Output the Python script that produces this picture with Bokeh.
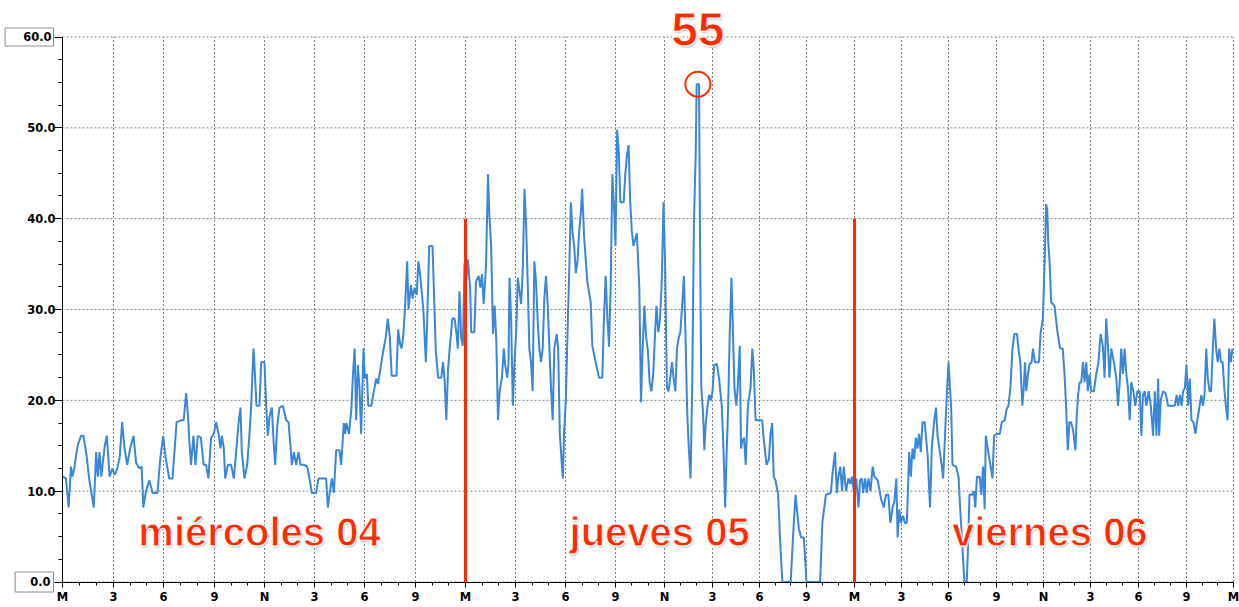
import numpy as np
from bokeh.plotting import figure
from bokeh.models import FixedTicker, Label, Range1d, LinearAxis
from bokeh.core.properties import value
from bokeh.embed import file_html
from bokeh.resources import INLINE

# ---------------- data ----------------
block_hours = list(range(0, 73, 3))
# number of readings logged in each 3-hour block (the axis is per reading)
readings_per_block = [51, 50, 51, 50, 50, 50, 51, 50,
                      50, 50, 50, 49, 48, 47, 47, 48,
                      47, 47, 48, 47, 47, 48, 48, 47]
tick_labels = ["M", "3", "6", "9", "N", "3", "6", "9"] * 3 + ["M"]
y_ticks = [0, 10, 20, 30, 40, 50, 60]
y_tick_labels = ["0.0", "10.0", "20.0", "30.0", "40.0", "50.0", "60.0"]
day_names = ["miércoles 04", "jueves 05", "viernes 06"]
day_label_hours = [11.7, 35.7, 60.4]
day_marks = [24, 48]

wed_hours = [0.00, 0.20, 0.36, 0.50, 0.59, 0.69, 0.89, 1.09, 1.23, 1.39,
             1.58, 1.84, 1.98, 2.08, 2.18, 2.28, 2.48, 2.61, 2.77, 2.93,
             3.07, 3.21, 3.37, 3.52, 3.66, 3.82, 4.00, 4.20, 4.36, 4.55,
             4.69, 4.79, 4.95, 5.15, 5.35, 5.64, 5.80, 5.98, 6.14, 6.34,
             6.53, 6.67, 6.77, 7.03, 7.19, 7.33, 7.43, 7.52, 7.62, 7.76,
             7.88, 8.02,
             8.20, 8.36, 8.50, 8.64, 8.80, 8.96, 9.10, 9.24, 9.36, 9.44,
             9.56, 9.64, 9.80, 10.00, 10.16, 10.30, 10.44, 10.56, 10.64, 10.80,
             10.96, 11.10, 11.20, 11.34, 11.44, 11.52, 11.70, 11.80, 12.00, 12.10,
             12.20, 12.30, 12.44, 12.56, 12.64, 12.76, 12.90, 13.10, 13.30, 13.44,
             13.56, 13.64, 13.76, 13.90, 14.04, 14.16, 14.40, 14.56, 14.70, 14.84,
             15.10, 15.24, 15.70, 15.80, 15.90, 16.04, 16.16, 16.30, 16.50, 16.60,
             16.76, 16.84,
             16.91, 17.07, 17.21, 17.31, 17.41, 17.50, 17.60, 17.70, 17.80, 17.94,
             18.02, 18.14, 18.22, 18.40, 18.59, 18.69, 18.79, 18.89, 19.09, 19.25,
             19.37, 19.49, 19.60, 19.88, 19.98, 20.08, 20.18, 20.28, 20.38, 20.51,
             20.59, 20.73, 20.83, 20.95, 21.07, 21.17, 21.27, 21.47, 21.62, 21.70,
             21.82, 22.02, 22.12, 22.22, 22.36, 22.55, 22.65, 22.75, 22.85, 22.95,
             23.05, 23.21, 23.35, 23.45, 23.54, 23.64, 23.74, 23.84, 23.94]
wed_speed = [11.6, 11.4, 8.2, 12.7, 11.6, 12.5, 15.0, 16.1, 16.1, 14.3,
             11.2, 8.2, 14.3, 11.6, 14.3, 11.6, 14.9, 16.1, 11.6, 12.5,
             11.8, 12.4, 13.7, 17.6, 14.7, 12.9, 14.7, 16.1, 13.1, 12.5,
             12.7, 8.2, 10.0, 11.2, 9.8, 9.8, 13.5, 16.1, 13.5, 11.4,
             11.4, 15.0, 17.6, 17.8, 17.8, 20.8, 18.6, 15.5, 12.9, 16.1,
             12.9, 16.1,
             15.9, 12.9, 12.9, 11.4, 15.9, 16.3, 17.6, 16.3, 14.7, 16.1,
             14.7, 11.4, 12.9, 12.9, 11.4, 14.3, 17.5, 19.2, 14.3, 11.4,
             12.9, 16.3, 19.4, 25.7, 22.4, 19.4, 19.4, 24.2, 24.2, 19.4,
             16.1, 18.2, 19.2, 15.0, 12.9, 17.1, 19.2, 19.4, 17.8, 17.6,
             15.0, 12.9, 14.3, 12.9, 14.3, 12.9, 12.9, 12.7, 11.4, 9.8,
             9.8, 11.4, 11.4, 8.2, 9.6, 11.4, 9.8, 14.5, 14.5, 12.9,
             17.5, 16.3,
             17.5, 16.3, 19.0, 22.9, 25.7, 17.8, 23.9, 21.4, 16.3, 25.7,
             22.4, 22.9, 19.4, 19.4, 21.4, 22.4, 21.8, 22.9, 25.3, 26.9,
             29.0, 26.9, 22.7, 22.7, 27.8, 26.3, 25.7, 27.1, 30.0, 35.3,
             30.0, 32.7, 31.2, 32.4, 31.6, 35.3, 34.0, 30.0, 24.2, 28.6,
             37.0, 37.0, 31.2, 25.3, 22.5, 22.5, 24.2, 22.2, 17.8, 23.3,
             25.7, 29.0, 29.0, 27.5, 25.7, 32.0, 26.9, 26.0, 35.1]

thu_hours = [24.04, 24.14, 24.28, 24.34, 24.53, 24.63, 24.79, 24.89, 24.99, 25.09,
             25.23, 25.35, 25.43, 25.54,
             25.65, 25.75, 25.85, 25.95, 26.05, 26.18, 26.30, 26.38, 26.50, 26.58,
             26.64, 26.74, 26.84, 26.94, 27.04, 27.14, 27.24, 27.34, 27.44, 27.54,
             27.64, 27.74, 27.83, 27.93, 28.03, 28.13, 28.23, 28.33, 28.43, 28.53,
             28.63, 28.73, 28.83, 28.93, 29.03, 29.13, 29.23, 29.33, 29.47, 29.56,
             29.66, 29.76, 29.84, 29.92, 30.02, 30.12, 30.22, 30.32, 30.42, 30.52,
             30.62, 30.72, 30.82, 30.92, 31.00, 31.12, 31.31, 31.51, 31.61, 31.81,
             32.01, 32.21, 32.31, 32.41, 32.51, 32.61, 32.71, 32.81, 32.90, 33.00,
             33.10, 33.20, 33.30, 33.50, 33.60, 33.70, 33.80, 33.90, 34.00, 34.10,
             34.31, 34.46, 34.56, 34.67, 34.77, 34.88, 34.99, 35.09, 35.20, 35.31,
             35.41, 35.51, 35.62, 35.73, 35.83, 35.94, 36.04, 36.15, 36.25, 36.36,
             36.47, 36.57, 36.68, 36.78, 36.89, 36.99, 37.10, 37.21, 37.31, 37.42,
             37.52, 37.63, 37.73, 37.84, 37.95, 38.01, 38.16, 38.22, 38.30, 38.41,
             38.49, 38.58, 38.68, 38.79, 38.90, 39.00, 39.11, 39.28, 39.42, 39.59,
             39.70, 39.81, 39.89, 40.00, 40.10, 40.21, 40.31, 40.40, 40.52, 40.61,
             40.74, 40.82, 40.90, 41.01, 41.12, 41.26, 41.43, 41.54, 41.64, 41.75,
             42.17, 42.28, 42.45, 42.60, 42.70, 42.81, 42.91, 43.02, 43.19, 43.34,
             43.46, 43.99, 44.15, 44.30, 44.41, 44.51, 44.66, 44.83, 45.00, 45.85,
             45.99, 46.21, 46.52, 46.63, 46.78, 46.90, 46.99, 47.11, 47.22, 47.33,
             47.47, 47.62, 47.75, 47.83, 47.96]
thu_speed = [33.1, 35.5, 32.4, 27.5, 27.5, 33.1, 33.7, 32.4, 33.9, 30.6,
             34.7, 44.9, 40.4, 37.0,
             27.3, 30.4, 26.5, 17.8, 21.0, 22.4, 25.7, 23.9, 22.5, 24.0,
             33.5, 28.8, 19.4, 24.2, 27.5, 33.5, 32.0, 30.6, 34.7, 43.3,
             39.2, 32.4, 25.7, 24.2, 21.0, 35.3, 33.1, 28.8, 25.7, 24.2,
             25.7, 31.2, 33.7, 30.6, 26.0, 21.4, 17.8, 25.7, 27.3, 25.7,
             16.3, 13.5, 11.4, 16.7, 20.0, 27.3, 34.0, 41.8, 38.6, 37.0,
             34.0, 35.3, 38.6, 40.6, 43.3, 37.9, 33.1, 30.8, 26.0, 24.2,
             22.5, 22.5, 29.2, 33.7, 29.2, 25.9, 32.4, 44.9, 41.8, 37.0,
             49.8, 47.3, 41.8, 41.8, 44.9, 47.0, 48.1, 41.8, 38.6, 37.0,
             38.4, 32.4, 19.8, 26.0, 30.4, 26.9, 25.3, 22.0, 21.0, 22.9,
             26.9, 30.4, 27.5, 29.0, 33.1, 41.8, 34.7, 21.4, 21.0, 22.5,
             24.2, 22.4, 21.0, 25.7, 26.9, 27.5, 30.4, 33.7, 27.3, 18.6,
             14.7, 11.4, 21.4, 39.6, 47.0, 54.8, 54.8, 37.9, 21.4, 18.6,
             14.5, 17.5, 19.2, 20.6, 20.0, 21.0, 23.9, 24.0, 22.4, 19.4,
             14.7, 8.2, 13.5, 19.4, 27.3, 33.5, 27.3, 21.4, 19.4, 21.4,
             26.0, 14.7, 15.5, 15.9, 12.9, 19.4, 21.4, 25.7, 23.3, 17.8,
             17.8, 15.5, 12.9, 13.5, 16.3, 17.5, 11.6, 11.2, 9.6, 3.7,
             0.0, 0.0, 5.3, 9.6, 7.6, 5.9, 4.9, 4.9, 0.0, 0.0,
             6.5, 9.6, 9.8, 12.0, 14.3, 9.8, 11.6, 12.7, 10.0, 12.7,
             10.0, 11.4, 10.8, 11.6, 10.0]

fri_hours = [48.11, 48.26, 48.35, 48.47, 48.55, 48.68, 48.78, 48.89, 49.02, 49.16,
             49.27, 49.48, 49.69, 49.86, 50.01, 50.16, 50.29, 50.43, 50.54, 50.67,
             50.75, 50.86, 50.96, 51.09, 51.22, 51.34, 51.49, 51.60, 51.70, 51.81,
             51.91, 52.02, 52.12, 52.23, 52.34, 52.48,
             52.67, 52.82, 52.94, 53.09, 53.20, 53.30, 53.45, 53.58, 53.66, 53.79,
             53.87, 54.00, 54.08, 54.17, 54.25, 54.47, 54.63, 54.72, 54.89, 54.99,
             55.14, 55.21, 55.31, 55.48, 55.59, 55.67, 55.78, 55.95, 56.05, 56.16,
             56.26, 56.33, 56.47, 56.62, 56.75, 56.85, 57.00, 57.21, 57.34, 57.53,
             57.64, 57.76, 57.89, 58.02, 58.14, 58.31, 58.40, 58.52, 58.65, 58.74,
             58.82, 58.90, 59.01, 59.12, 59.24, 59.33, 59.45, 59.71, 59.81, 59.96,
             60.07, 60.17, 60.24, 60.30, 60.38, 60.49, 60.70, 60.91, 61.06, 61.23,
             61.34, 61.44, 61.55, 61.65, 61.76,
             61.89, 62.04, 62.12, 62.21, 62.31, 62.41, 62.52, 62.62, 62.73, 62.83,
             62.94, 63.04, 63.21, 63.36, 63.50, 63.63, 63.77, 63.88, 63.98, 64.09,
             64.19, 64.30, 64.46, 64.61, 64.72, 64.82, 64.92, 65.03, 65.13, 65.24,
             65.34, 65.45, 65.55, 65.68, 65.80, 65.93, 66.08, 66.18, 66.28, 66.39,
             66.49, 66.64, 66.77, 66.91, 67.02, 67.12, 67.23, 67.29, 67.39, 67.54,
             67.69, 67.85, 68.06, 68.27, 68.38, 68.48, 68.59, 68.69, 68.79, 68.90,
             69.00, 69.11, 69.21, 69.32, 69.44, 69.57, 69.69, 69.84, 69.95, 70.05,
             70.15, 70.26, 70.36, 70.47, 70.57, 70.68, 70.78, 70.89, 70.99, 71.10,
             71.20, 71.31, 71.41, 71.51, 71.62, 71.72, 71.83, 71.93]
fri_speed = [11.4, 8.2, 11.2, 11.4, 9.8, 11.4, 9.8, 11.4, 10.0, 12.7,
             11.6, 11.2, 9.2, 8.2, 9.6, 9.6, 6.5, 8.2, 8.8, 11.4,
             4.9, 8.0, 6.5, 7.3, 6.5, 6.5, 14.3, 11.6, 14.7, 13.5,
             15.9, 14.7, 16.3, 14.3, 17.6, 17.6,
             13.9, 8.2, 15.0, 17.8, 19.2, 16.1, 14.3, 12.7, 11.4, 16.7,
             19.8, 24.2, 21.8, 19.0, 12.9, 12.7, 11.6, 8.4, 3.3, 0.0,
             0.0, 3.3, 9.6, 9.6, 10.0, 8.2, 11.6, 11.6, 9.6, 12.7,
             8.0, 16.1, 14.5, 12.9, 11.4, 16.1, 16.3, 16.3, 17.6, 17.8,
             19.0, 19.4, 21.4, 25.7, 27.3, 27.3, 25.7, 24.2, 19.4, 21.4,
             24.2, 21.0, 22.9, 24.0, 24.2, 25.7, 24.2, 24.2, 27.3, 29.0,
             35.1, 41.6, 41.0, 37.5, 35.5, 30.8, 30.4, 27.3, 25.7, 25.7,
             22.9, 19.4, 14.5, 17.6, 17.6,
             16.7, 14.5, 18.2, 20.6, 22.0, 22.0, 24.2, 22.0, 24.2, 21.0,
             22.9, 21.0, 21.0, 22.9, 24.2, 27.3, 26.0, 22.5, 29.0, 26.0,
             22.5, 25.7, 24.2, 22.5, 19.4, 21.8, 25.7, 22.9, 25.7, 22.9,
             21.4, 17.8, 22.0, 21.0, 19.4, 21.0, 21.0, 16.1, 20.6, 21.0,
             19.4, 21.0, 19.4, 16.1, 21.0, 16.1, 22.4, 16.1, 20.0, 21.0,
             20.8, 19.4, 19.4, 19.4, 20.6, 19.4, 20.6, 19.4, 21.0, 21.4,
             23.9, 19.4, 22.4, 17.8, 17.6, 16.3, 17.8, 19.4, 20.6, 19.4,
             20.6, 25.7, 22.4, 21.0, 21.0, 25.7, 29.0, 25.7, 24.2, 25.7,
             24.2, 24.2, 21.4, 19.4, 17.8, 25.7, 24.2, 25.7]

assert len(wed_hours) == len(wed_speed), (len(wed_hours), len(wed_speed))
assert len(thu_hours) == len(thu_speed), (len(thu_hours), len(thu_speed))
assert len(fri_hours) == len(fri_speed), (len(fri_hours), len(fri_speed))

# ---------------- build ----------------
hours = np.array(wed_hours + thu_hours + fri_hours)
speed = np.array(wed_speed + thu_speed + fri_speed)
edges = np.concatenate([[0], np.cumsum(readings_per_block)]).astype(int)
n_read = float(edges[-1])


def to_x(h):
    return np.interp(h, block_hours, edges)


RED = "#ff2a00"
BLUE = "#3a86d8"
GRID = "#808080"

W, H = 1239, 607
LEFT, RIGHT, TOP, BOTTOM = 62.0, 6.0, 36.5, 25.5   # canvas margins around the data area
ppy = (H - TOP - BOTTOM) / 60.0
x_range = Range1d(-LEFT, n_read + RIGHT)
y_range = Range1d(-BOTTOM / ppy, 60 + TOP / ppy)

p = figure(width=W, height=H, output_backend="svg", toolbar_location=None,
           x_range=x_range, y_range=y_range,
           x_axis_location=None, y_axis_location=None,
           min_border=0, min_border_left=0, min_border_right=0,
           min_border_top=0, min_border_bottom=0)
p.outline_line_color = None
p.background_fill_color = "white"
p.border_fill_color = "white"
p.xgrid.visible = False
p.ygrid.visible = False

# dashed grid inside the data area
p.segment(x0=[float(e) for e in edges], y0=0, x1=[float(e) for e in edges], y1=60,
          line_color=GRID, line_dash="2 2", line_width=1)
p.segment(x0=0, y0=y_ticks, x1=n_read, y1=y_ticks,
          line_color=GRID, line_dash="2 2", line_width=1)

# axes pinned at the data origin
xaxis = LinearAxis(fixed_location=0, bounds=(0, n_read))
xaxis.ticker = FixedTicker(ticks=[float(e) for e in edges],
                           minor_ticks=[float(v) for v in to_x(np.arange(73))])
xaxis.major_label_overrides = {int(e): lab for e, lab in zip(edges, tick_labels)}
xaxis.major_tick_out = 5
xaxis.major_tick_in = 0
xaxis.minor_tick_out = 3
xaxis.minor_tick_in = 0
xaxis.major_label_standoff = 3

yaxis = LinearAxis(fixed_location=0, bounds=(0, 60))
yaxis.ticker = FixedTicker(ticks=y_ticks, minor_ticks=list(np.arange(0, 60.1, 2.5)))
ov = {t: lab for t, lab in zip(y_ticks, y_tick_labels)}
ov[0] = ""
ov[60] = ""
yaxis.major_label_overrides = ov
yaxis.major_tick_out = 8
yaxis.major_tick_in = 0
yaxis.minor_tick_out = 4
yaxis.minor_tick_in = 0
yaxis.major_label_standoff = -1

for ax in (xaxis, yaxis):
    ax.axis_line_color = "black"
    ax.major_tick_line_color = "black"
    ax.minor_tick_line_color = "black"
    ax.major_label_text_font = "DejaVu Sans"
    ax.major_label_text_font_style = "bold"
    ax.major_label_text_font_size = "11.5px"
    ax.major_label_text_color = "black"

p.add_layout(xaxis, "below")
p.add_layout(yaxis, "left")

# boxed end labels on the y axis
for yv, lab, pad_tb, nb in ((60, y_tick_labels[-1], 2, 4), (0, y_tick_labels[0], 3, 3)):
    p.add_layout(Label(x=0, y=yv, x_offset=-9, text="\u00a0" * nb + lab,
                       text_align="right", text_baseline="middle",
                       text_font="DejaVu Sans", text_font_style="bold",
                       text_font_size="11.5px", text_color="black",
                       border_line_color="#8c8c8c", border_line_width=1,
                       background_fill_color="white", padding=pad_tb))

# data line
p.line(to_x(hours), speed, line_color=BLUE, line_width=2)

# day separators
mx = to_x(np.array(day_marks, dtype=float))
p.segment(x0=mx, y0=0, x1=mx, y1=40, line_color=RED, line_width=3)

# peak marker
peak = speed.max()
peak_h = hours[speed == peak].mean()
peak_x = float(to_x(peak_h))
p.scatter([peak_x], [peak], size=25, marker="circle", fill_color=None,
          line_color=RED, line_width=2)


def big_text(xs, ys, texts, size):
    p.text(x=xs, y=ys, text=texts, x_offset=1, y_offset=2,
           text_align="center", text_baseline="alphabetic",
           text_font=value("Liberation Sans"), text_font_style="bold",
           text_font_size=value(size), text_color="#c8c8c8", text_alpha=0.7)
    p.text(x=xs, y=ys, text=texts, text_align="center",
           text_baseline="alphabetic", text_font=value("Liberation Sans"),
           text_font_style="bold", text_font_size=value(size),
           text_color=RED, text_outline_color="white")


big_text([peak_x], [60.82], [str(int(peak + 0.5))], "48px")
big_text([float(v) for v in to_x(np.array(day_label_hours))], [5.45] * 3, day_names, "40px")

open("out.html", "w").write(file_html(p, INLINE))
